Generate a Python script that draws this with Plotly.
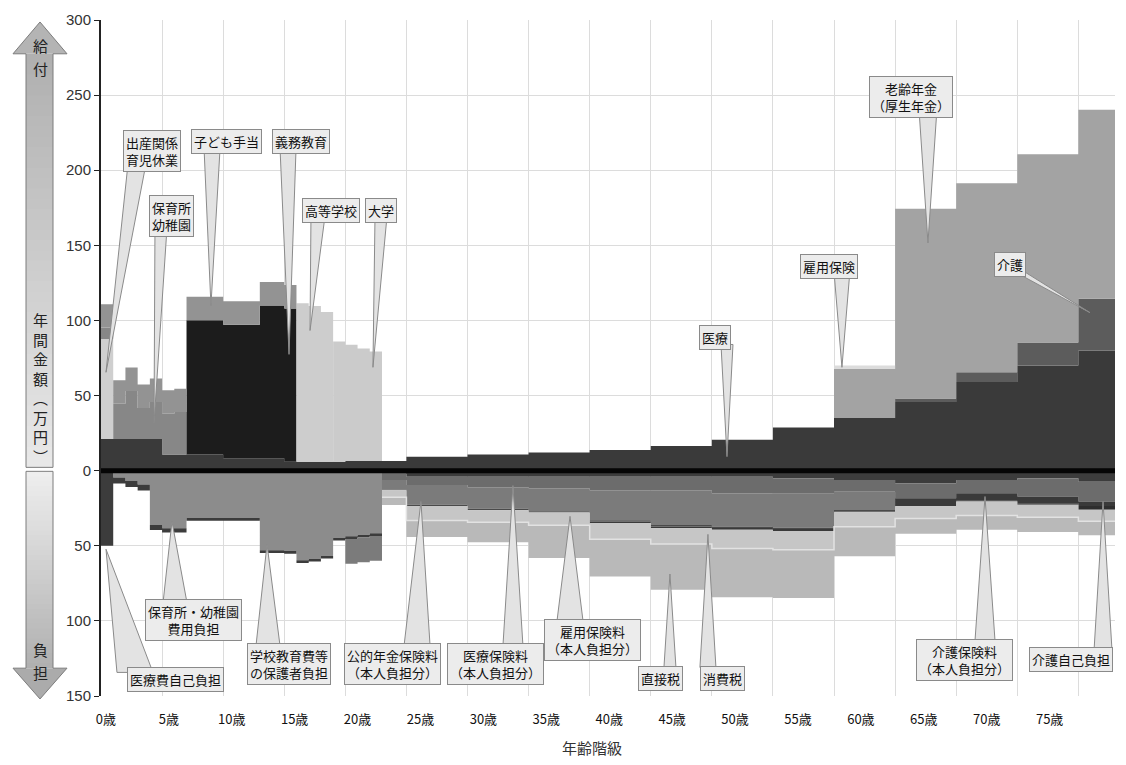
import plotly.graph_objects as go

# ---------------- DATA ----------------
# age-bin edges: single years 0..22, then 23-24, 25-29, ..., 75-79, 80+
AGE_EDGES = [0, 1, 2, 3, 4, 5, 6, 7, 8, 9, 10, 11, 12, 13, 14, 15, 16, 17, 18, 19, 20, 21, 22,
             23, 25, 30, 35, 40, 45, 50, 55, 60, 65, 70, 75, 80, 83]

# ---- benefits (給付), 万円 per year ----
MED_BENEFIT = [21, 21, 21, 21, 21, 10.8, 10.8, 10.8, 10.8, 10.8, 8.2, 8.2, 8.2, 8.2, 8.2,
               6, 6, 6, 6, 6, 6.5, 6.5, 6.5, 6.5, 9.3, 10.8, 12.1, 13.7, 16.5, 20.5, 28.8,
               35, 45.7, 59, 70, 80]
CARE_BENEFIT = [0, 0, 0, 0, 0, 0, 0, 0, 0, 0, 0, 0, 0, 0, 0, 0, 0, 0, 0, 0, 0, 0, 0,
                0, 0, 0, 0, 0, 0, 0, 0, 0, 2.3, 6.5, 15.4, 34.4]
BIRTH = [66.6, 0, 0, 0, 0, 0, 0, 0, 0, 0, 0, 0, 0, 0, 0, 0, 0, 0, 0, 0, 0, 0, 0,
         0, 0, 0, 0, 0, 0, 0, 0, 0, 0, 0, 0, 0]
NURSERY = [7.7, 23.6, 32.0, 20.7, 24.7, 27.1, 28.2, 0, 0, 0, 0, 0, 0, 0, 0, 0, 0, 0, 0, 0, 0, 0, 0,
           0, 0, 0, 0, 0, 0, 0, 0, 0, 0, 0, 0, 0]
COMPULSORY = [0, 0, 0, 0, 0, 0, 0, 89.4, 89.4, 89.4, 88.9, 88.9, 88.9, 101.8, 101.8, 102.0,
              0, 0, 0, 0, 0, 0, 0, 0, 0, 0, 0, 0, 0, 0, 0, 0, 0, 0, 0, 0]
HIGH_SCHOOL = [0, 0, 0, 0, 0, 0, 0, 0, 0, 0, 0, 0, 0, 0, 0, 0, 105.4, 103.6, 99.7, 0, 0, 0, 0,
               0, 0, 0, 0, 0, 0, 0, 0, 0, 0, 0, 0, 0]
UNIVERSITY = [0, 0, 0, 0, 0, 0, 0, 0, 0, 0, 0, 0, 0, 0, 0, 0, 0, 0, 0, 80.0, 77.3, 74.9, 72.9,
              0, 0, 0, 0, 0, 0, 0, 0, 0, 0, 0, 0, 0]
CHILD_ALLOW = [15.4, 15.6, 15.6, 15.6, 15.6, 15.6, 15.6, 15.6, 15.6, 15.6, 15.6, 15.6, 15.6, 15.6,
               15.6, 15.6, 0, 0, 0, 0, 0, 0, 0, 0, 0, 0, 0, 0, 0, 0, 0, 0, 0, 0, 0, 0]
PENSION = [0, 0, 0, 0, 0, 0, 0, 0, 0, 0, 0, 0, 0, 0, 0, 0, 0, 0, 0, 0, 0, 0, 0,
           0, 0, 0, 0, 0, 0, 0, 0, 32.7, 126.3, 125.8, 125.3, 125.8]
EMPLOY_BENEFIT = [0, 0, 0, 0, 0, 0, 0, 0, 0, 0, 0, 0, 0, 0, 0, 0, 0, 0, 0, 0, 0, 0, 0,
                  0, 0, 0, 0, 0, 0, 0, 0, 2.3, 0, 0, 0, 0]

# ---- burdens (負担), 万円 per year (plotted downward) ----
EDU_BURDEN = [0, 4.5, 6.8, 9.2, 36.2, 38.4, 38.4, 31.5, 31.5, 31.5, 31.5, 31.5, 31.5,
              53.0, 53.0, 53.5, 59.7, 58.7, 56.7, 44.7, 43.7, 42.7, 41.7,
              0, 0, 0, 0, 0, 0, 0, 0, 0, 0, 0, 0, 0]
MED_COPAY = [50, 4, 4, 4, 3.3, 2.7, 2.7, 1.8, 1.8, 1.8, 1.8, 1.8, 1.8, 1.8, 1.8, 1.8, 1.8, 1.8,
             1.8, 1.8, 1.8, 1.8, 1.8, 2, 4, 4, 4, 4, 4, 4, 5, 6.2, 8.4, 6.2, 5.1, 7.3]
HEALTH_INS = [0, 0, 0, 0, 0, 0, 0, 0, 0, 0, 0, 0, 0, 0, 0, 0, 0, 0, 0, 0, 0, 0, 0,
              4.2, 5.5, 7.0, 7.7, 9.0, 9.0, 11.0, 10.4, 7.8, 9.9, 8.8, 12.1, 13.2]
PENSION_PREM = [0, 0, 0, 0, 0, 0, 0, 0, 0, 0, 0, 0, 0, 0, 0, 0, 0, 0, 0, 0, 16.5, 16.5, 16.5,
                6.4, 13.2, 14.4, 15.3, 20.0, 23.2, 22.2, 22.6, 12.2, 0, 0, 0, 0]
EMP_INS = [0, 0, 0, 0, 0, 0, 0, 0, 0, 0, 0, 0, 0, 0, 0, 0, 0, 0, 0, 0, 0, 0, 0,
           0.4, 0.9, 0.9, 0.9, 0.9, 0.9, 0.9, 0.9, 0.9, 0, 0, 0, 0]
CARE_INS = [0, 0, 0, 0, 0, 0, 0, 0, 0, 0, 0, 0, 0, 0, 0, 0, 0, 0, 0, 0, 0, 0, 0,
            0, 0, 0, 0, 0.9, 1.2, 1.2, 1.3, 0.6, 5.4, 5.0, 4.5, 3.0]
CARE_COPAY = [0, 0, 0, 0, 0, 0, 0, 0, 0, 0, 0, 0, 0, 0, 0, 0, 0, 0, 0, 0, 0, 0, 0,
              0, 0, 0, 0, 0, 0, 0, 0, 0, 0, 0.5, 1.0, 2.5]
CONSUMPTION = [0, 0, 0, 0, 0, 0, 0, 0, 0, 0, 0, 0, 0, 0, 0, 0, 0, 0, 0, 0, 0, 0, 0,
               4.7, 9.5, 8.0, 8.5, 10.8, 10.5, 12.5, 12.5, 9.6, 8.1, 9.3, 8.3, 7.7]
DIRECT_TAX = [0, 0, 0, 0, 0, 0, 0, 0, 0, 0, 0, 0, 0, 0, 0, 0, 0, 0, 0, 0, 0, 0, 0,
              5.1, 11.0, 13.4, 21.7, 24.8, 30.5, 32.5, 32.0, 19.6, 10.2, 9.5, 9.8, 9.3]

TICK_AGES = [0, 5, 10, 15, 20, 25, 30, 35, 40, 45, 50, 55, 60, 65, 70, 75]
TICK_LABELS = [f"{a}歳" for a in TICK_AGES]
Y_TICKS = [-150, -100, -50, 0, 50, 100, 150, 200, 250, 300]
Y_LABELS = [str(abs(v)) for v in Y_TICKS]

# callouts: text, box centre (age, value), wedge base (age, value), tip (age, value), half width px
CALLOUTS = [
    ("出産関係<br>育児休業", (4.17, 213.1), (2.95, 204.5), (0.41, 65.5), 9),
    ("保育所<br>幼稚園", (5.81, 169.4), (4.91, 161.5), (4.34, 31.8), 6),
    ("子ども手当", (10.31, 219.1), (9.09, 214.4), (9.0, 109.9), 8),
    ("義務教育", (16.37, 219.1), (15.31, 214.4), (15.39, 77.4), 8),
    ("高等学校", (18.83, 173.4), (17.76, 169.4), (17.11, 93.3), 7),
    ("大学", (22.92, 173.4), (22.92, 169.4), (22.26, 68.8), 6),
    ("医療", (50.26, 88.7), (51.24, 84.0), (51.24, 9.3), 6),
    ("雇用保険", (59.6, 135.7), (60.65, 133.0), (60.65, 68.8), 8),
    ("老齢年金<br>（厚生年金）", (66.3, 248.8), (67.69, 240.9), (67.69, 151.6), 9),
    ("介護", (74.4, 137.0), (75.06, 133.0), (80.95, 105.2), 5),
    ("医療費自己負担", (6.06, -139.0), (2.78, -134.3), (0.41, -52.3), 18),
    ("保育所・幼稚園<br>費用負担", (7.61, -99.3), (6.06, -88.0), (5.81, -33.8), 12),
    ("学校教育費等<br>の保護者負担", (15.39, -129.0), (13.67, -116.5), (13.59, -49.0), 12),
    ("公的年金保険料<br>（本人負担分）", (23.9, -129.0), (25.87, -116.5), (26.19, -20.5), 13),
    ("医療保険料<br>（本人負担分）", (32.33, -129.0), (33.72, -116.5), (33.72, -9.9), 10),
    ("雇用保険料<br>（本人負担分）", (40.27, -112.5), (38.39, -100.0), (38.39, -30.4), 13),
    ("直接税", (45.76, -138.3), (46.57, -131.0), (46.57, -68.8), 6),
    ("消費税", (50.91, -138.3), (49.68, -131.0), (49.68, -42.4), 8),
    ("介護保険料<br>（本人負担分）", (70.72, -125.7), (72.36, -113.2), (72.36, -17.2), 10),
    ("介護自己負担", (79.4, -125.7), (82.02, -119.8), (82.02, -20.5), 9),
]

# ---------------- FIGURE ----------------
JP = "Noto Sans CJK JP"
fig = go.Figure()

def add_layer(vals, color, group, sign=1):
    ys = [sign * v for v in vals] + [sign * vals[-1]]
    fig.add_trace(go.Scatter(
        x=AGE_EDGES, y=ys, mode="lines", stackgroup=group,
        line=dict(width=0, shape="hv"), fillcolor=color,
        hoverinfo="skip", showlegend=False))

# benefits stack (bottom -> top)
add_layer(MED_BENEFIT, "#3a3a3a", "pos")
add_layer(CARE_BENEFIT, "#5c5c5c", "pos")
add_layer(BIRTH, "#cfcfcf", "pos")
add_layer(NURSERY, "#878787", "pos")
add_layer(COMPULSORY, "#1c1c1c", "pos")
add_layer(HIGH_SCHOOL, "#cdcdcd", "pos")
add_layer(UNIVERSITY, "#cbcbcb", "pos")
add_layer(CHILD_ALLOW, "#939393", "pos")
add_layer(PENSION, "#a3a3a3", "pos")
add_layer(EMPLOY_BENEFIT, "#dcdcdc", "pos")

# burdens stack (0 -> downward)
NEG_LAYERS = [
    (EDU_BURDEN, "#8c8c8c"), (MED_COPAY, "#3c3c3c"), (HEALTH_INS, "#6c6c6c"),
    (PENSION_PREM, "#7b7b7b"), (EMP_INS, "#4a4a4a"), (CARE_INS, "#3a3a3a"),
    (CARE_COPAY, "#2e2e2e"), (CONSUMPTION, "#c6c6c6"), (DIRECT_TAX, "#b9b9b9"),
]
for vals, col in NEG_LAYERS:
    add_layer(vals, col, "neg", -1)

# light separating edge between consumption tax and direct tax (as in the source)
cum = [0.0] * len(CONSUMPTION)
for vals, _ in NEG_LAYERS[:8]:
    cum = [c + v for c, v in zip(cum, vals)]
edge = [(-c if cv > 0 else None) for c, cv in zip(cum, CONSUMPTION)]
edge = edge + [edge[-1]]
fig.add_trace(go.Scatter(x=AGE_EDGES, y=edge, mode="lines",
                         line=dict(width=1.5, color="#e2e2e2", shape="hv"),
                         hoverinfo="skip", showlegend=False, connectgaps=False))

shapes = []
annotations = []

# thick zero line
shapes.append(dict(type="line", xref="x", yref="y", x0=AGE_EDGES[0], x1=AGE_EDGES[-1], y0=0, y1=0,
                   line=dict(color="#050505", width=5), layer="above"))

# callouts
PX_PER_AGE = 1014 / 83.0
for text, box, base, tip, hw in CALLOUTS:
    h = hw / PX_PER_AGE
    path = (f"M {base[0]-h},{base[1]} L {tip[0]},{tip[1]} L {base[0]+h},{base[1]} Z")
    shapes.append(dict(type="path", xref="x", yref="y", path=path, fillcolor="#e3e3e3",
                       line=dict(color="#8a8a8a", width=1), layer="above"))
    annotations.append(dict(x=box[0], y=box[1], xref="x", yref="y", text=text, showarrow=False,
                            xanchor="center", yanchor="middle",
                            font=dict(family=JP, size=13, color="#111111"),
                            bgcolor="#ececec", bordercolor="#8a8a8a", borderwidth=1, borderpad=2,
                            align="center"))

# left-side arrows (pixel geometry converted to paper coordinates)
def px(x):
    return (x - 101) / 1014.0

def py(y):
    return (696 - y) / 680.0

def grey(v):
    v = int(round(v))
    return f"rgb({v},{v},{v})"

# up arrow shaft gradient
n = 40
top, bot = 50, 466
for i in range(n):
    y0 = top + (bot - top) * i / n
    y1 = min(bot, top + (bot - top) * (i + 1) / n + 1.5)
    c = 176 + (232 - 176) * i / (n - 1)
    shapes.append(dict(type="rect", xref="paper", yref="paper", x0=px(26), x1=px(53),
                       y0=py(y1), y1=py(y0), fillcolor=grey(c), line=dict(width=0), layer="above"))
# down arrow shaft gradient
top, bot = 470, 668
for i in range(n):
    y0 = top + (bot - top) * i / n
    y1 = min(bot, top + (bot - top) * (i + 1) / n + 1.5)
    c = 238 + (176 - 238) * i / (n - 1)
    shapes.append(dict(type="rect", xref="paper", yref="paper", x0=px(26), x1=px(53),
                       y0=py(y1), y1=py(y0), fillcolor=grey(c), line=dict(width=0), layer="above"))

up_path = (f"M {px(40)},{py(18)} L {px(67)},{py(50)} L {px(53)},{py(50)} L {px(53)},{py(466)} "
           f"L {px(26)},{py(466)} L {px(26)},{py(50)} L {px(13)},{py(50)} Z")
up_head = f"M {px(40)},{py(18)} L {px(67)},{py(50)} L {px(13)},{py(50)} Z"
dn_path = (f"M {px(26)},{py(470)} L {px(53)},{py(470)} L {px(53)},{py(668)} L {px(67)},{py(668)} "
           f"L {px(40)},{py(699)} L {px(13)},{py(668)} L {px(26)},{py(668)} Z")
dn_head = f"M {px(13)},{py(668)} L {px(67)},{py(668)} L {px(40)},{py(699)} Z"
shapes.append(dict(type="path", xref="paper", yref="paper", path=up_head, fillcolor="#b4b4b4",
                   line=dict(width=0), layer="above"))
shapes.append(dict(type="path", xref="paper", yref="paper", path=dn_head, fillcolor="#ababab",
                   line=dict(width=0), layer="above"))
shapes.append(dict(type="path", xref="paper", yref="paper", path=up_path, fillcolor="rgba(0,0,0,0)",
                   line=dict(color="#7d7d7d", width=1), layer="above"))
shapes.append(dict(type="path", xref="paper", yref="paper", path=dn_path, fillcolor="rgba(0,0,0,0)",
                   line=dict(color="#7d7d7d", width=1), layer="above"))

# vertical captions inside the arrows, one glyph per annotation
for ch, yy in (("給", 42), ("付", 65), ("負", 649), ("担", 672)):
    annotations.append(dict(x=px(40), y=py(yy), xref="paper", yref="paper", text=ch,
                            xanchor="center", yanchor="middle", showarrow=False,
                            font=dict(family=JP, size=15, color="#222")))
annotations.append(dict(x=px(40), y=py(386), xref="paper", yref="paper",
                        text="年<br>間<br>金<br>額<br>︵<br>万<br>円<br>︶",
                        xanchor="center", yanchor="middle",
                        showarrow=False, font=dict(family=JP, size=15, color="#222")))
annotations.append(dict(x=px(592), y=py(748), xref="paper", yref="paper", text="年齢階級",
                        xanchor="center", yanchor="middle",
                        showarrow=False, font=dict(family=JP, size=15, color="#333")))

fig.update_layout(
    width=1126, height=765,
    margin=dict(l=101, r=11, t=16, b=69),
    plot_bgcolor="white", paper_bgcolor="white",
    showlegend=False,
    font=dict(family=JP + ", Liberation Sans", color="#222"),
    xaxis=dict(range=[AGE_EDGES[0], AGE_EDGES[-1]],
               tickmode="array", tickvals=[0.4 + 1.03 * a for a in TICK_AGES], ticktext=TICK_LABELS,
               showgrid=False, zeroline=False, showline=False,
               ticks="outside", ticklen=11, tickcolor="rgba(0,0,0,0)",
               tickfont=dict(family=JP, size=13, color="#111"),
               minor=dict(tickmode="array", tickvals=[5, 10, 15, 20, 25, 30, 35, 40, 45, 50, 55, 60,
                                                      65, 70, 75, 80],
                          showgrid=True, gridcolor="#dcdcdc", gridwidth=1, ticks="")),
    yaxis=dict(range=[-150, 300], tickmode="array", tickvals=Y_TICKS, ticktext=Y_LABELS,
               showgrid=True, gridcolor="#dcdcdc", gridwidth=1, zeroline=False,
               showline=True, linecolor="#222", linewidth=2,
               ticks="outside", ticklen=5, tickcolor="#222",
               tickfont=dict(family="Liberation Sans", size=15, color="#333")),
    shapes=shapes,
    annotations=annotations,
)

fig.write_html("out.html", config={"displayModeBar": False},
               post_script="document.body.style.margin='0';")
